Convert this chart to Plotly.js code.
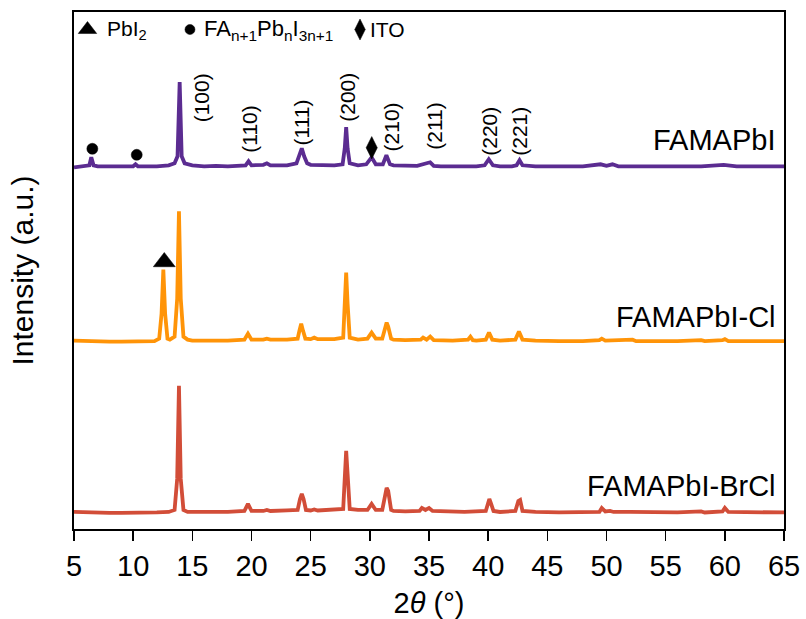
<!DOCTYPE html>
<html>
<head>
<meta charset="utf-8">
<script src="https://cdn.plot.ly/plotly-3.0.1.min.js"></script>
<style>html,body{margin:0;padding:0;background:#fff;}#chart{width:806px;height:619px;}</style>
</head>
<body>
<div id="chart"></div>
<script>
// ---- Data (2θ in degrees, stacked intensity in a.u.) ----
const famaX = [5,6,6.3,6.46,6.65,7,8,9,10,10.2,10.4,11,12,13,13.5,13.75,13.93,14.1,14.35,15,16,17,18,19.5,19.75,20,21,21.3,21.6,22,23,23.8,24.05,24.25,24.45,24.7,25,26,27,27.7,27.88,28,28.12,28.3,29,29.7,30.15,30.5,31.1,31.4,31.7,32,33,34,35.1,35.4,36,37,38,39,39.7,40.05,40.4,41,42,42.4,42.65,42.9,44,45,46,47,48,49.5,50,50.5,51,52,54,56,58,59.9,61,63,65];
const famaY = [361,362,363,371,363,362,362,361.5,362,364,362,362,362,363,365,372,446,372,365,363,362,362.5,362,363,367,363,363.5,365,363,363,363,365,372,380,372,365,363.5,363,363,364,380,401,380,365,363,364,371,364,364,373,364,363,362.5,362.5,366,362.5,362,362,362,362,363,369,363,362,362,363,368,363,362,362,362,362,362,364,362.5,364,362,362,362,362,362,363.5,362,362,362];

const clX = [5,6,7,8,9,10,11,11.8,12.2,12.4,12.55,12.7,12.9,13.1,13.5,13.72,13.87,14.02,14.25,14.6,15,16,17,18,19.4,19.7,20,21,21.3,21.6,23,23.9,24.05,24.2,24.35,24.55,25,25.3,25.6,27,27.75,27.9,28,28.12,28.3,29,29.8,30.15,30.5,31.05,31.3,31.42,31.55,31.8,32,33,34.3,34.5,34.8,35.1,35.4,36,37,38.3,38.5,38.7,39,39.8,40.07,40.35,41,42.3,42.6,42.9,44,46,48,49.4,49.6,49.9,52.2,52.5,54,56,58,58.3,59.8,60,60.3,62,65];
const clY = [188,187.5,187,187,187,187,187,187.5,190,215,259,215,190,189,192,230,317,230,192,189,188,188,188,188,189,195,189,189,190,189,189,190,198,205,198,190,189.5,191,189.5,189.5,191,225,256,225,191,189,190,196,190,190,202,206,202,190,189,188.5,189,191,189,192,188.5,188,188,189,192,188.5,188,189,196,189,188,189,197,189,188,187.5,187.5,188.5,190,188,189,187.5,187.5,187.5,188.5,187.5,188.5,189.5,187.5,187.5,187.5];

const brclX = [5,6,7,8,9,10,11,12,13,13.5,13.72,13.87,14.02,14.25,14.6,15,16,17,18,19.4,19.7,20,21,21.3,21.6,23,23.9,24.1,24.25,24.4,24.6,25,25.3,25.6,27,27.75,27.9,28,28.12,28.3,29,29.8,30.15,30.5,31.05,31.3,31.42,31.55,31.8,32,33,34.2,34.4,34.7,35,35.3,36,38,39.8,40,40.1,40.25,40.45,41,42.3,42.55,42.7,42.9,44,46,48,49.4,49.6,49.9,50.3,50.6,52,54,56,58,58.3,59.8,60,60.3,62,65];
const brclY = [17,16.5,16.5,16,16,16,16,16.5,17,19,50,143,50,19,17,17,16.5,17,17,18,25,18,18,19,18,18.5,19,30,35,30,19,18.5,19.5,18.5,19,20,55,78,55,20,19,19,25,19,19,38,41,38,19,18,17.5,18,21,19,21,18,17.5,17,18,29,30,25,18,17,18,28,29,18,17,16.5,16.5,17,21,17.5,18,17,17,16.5,16.5,17.5,16.5,17.5,21,17,17,16.5];

const seriesNames = ['FAMAPbI', 'FAMAPbI-Cl', 'FAMAPbI-BrCl'];
const seriesColors = ['#5b2c91', '#ff9408', '#d24d38'];
const seriesLabelY = [388.5, 211.5, 42.5];

// Miller index labels
const hklText = ['(100)','(110)','(111)','(200)','(210)','(211)','(220)','(221)'];
const hklX = [15.79,19.87,24.24,28.16,31.85,35.51,40.16,42.69];
const hklY = [430.5,399.5,405.5,430.5,401.5,401.5,396.5,396.5];

// Phase markers above peaks
const phaseX = [6.55, 10.3, 30.16, 12.63];
const phaseY = [379.5, 373.5, 380.5, 266.5];
const phaseSym = ['circle','circle','diamond-tall','triangle-up'];
const phaseSize = [11, 11, 16, 19];

// Legend keys (top row)
const keySym = ['triangle-up','circle','diamond-tall'];
const keyX = [6.14, 14.8, 29.17];
const keyText = ['PbI<sub>2</sub>', 'FA<sub>n+1</sub>Pb<sub>n</sub>I<sub>3n+1</sub>', 'ITO'];
const keyTextX = [7.6, 15.85, 29.85];
const keyTextSize = [21, 22, 21];
const keyY = 498.5;

const xTicks = [5,10,15,20,25,30,35,40,45,50,55,60,65];

const FONT = 'Arial, "Liberation Sans", sans-serif';

const traces = [
  {x: famaX, y: famaY, mode:'lines', line:{color:seriesColors[0], width:3.8}, name:seriesNames[0], hoverinfo:'skip'},
  {x: clX, y: clY, mode:'lines', line:{color:seriesColors[1], width:3.8}, name:seriesNames[1], hoverinfo:'skip'},
  {x: brclX, y: brclY, mode:'lines', line:{color:seriesColors[2], width:3.8}, name:seriesNames[2], hoverinfo:'skip'},
  {x: phaseX, y: phaseY, mode:'markers', opacity:1,
    marker:{symbol:phaseSym, size:phaseSize, color:'#000000', opacity:1, line:{color:'#000000', width:0.5}}, hoverinfo:'skip'},
  {x: keyX, y: [keyY,keyY,keyY], mode:'markers', opacity:1,
    marker:{symbol:keySym, size:[16,10,15], color:'#000000', opacity:1, line:{color:'#000000', width:0.5}}, hoverinfo:'skip'}
];

const annotations = [];
for (let i = 0; i < seriesNames.length; i++) {
  annotations.push({xref:'paper', yref:'y', x:0.992, y:seriesLabelY[i], xanchor:'right', yanchor:'middle',
    text:seriesNames[i], showarrow:false, font:{family:FONT, size:29, color:'#000'}});
}
for (let i = 0; i < hklText.length; i++) {
  annotations.push({xref:'x', yref:'y', x:hklX[i], y:hklY[i], xanchor:'center', yanchor:'middle',
    text:hklText[i], textangle:-90, showarrow:false, font:{family:FONT, size:21, color:'#000'}});
}
for (let i = 0; i < keyText.length; i++) {
  annotations.push({xref:'x', yref:'y', x:keyTextX[i], y:keyY, xanchor:'left', yanchor:'middle',
    text:keyText[i], showarrow:false, font:{family:FONT, size:keyTextSize[i], color:'#000'}});
}

const layout = {
  width:806, height:619,
  margin:{l:74, r:22, t:12, b:90},
  paper_bgcolor:'#fff', plot_bgcolor:'#fff',
  showlegend:false,
  xaxis:{range:[5,65], tickvals:xTicks, ticktext:xTicks.map(String), ticks:'outside', ticklen:10, tickwidth:1.5,
    tickcolor:'#000', showline:true, linecolor:'#000', linewidth:2, mirror:true, showgrid:false, zeroline:false,
    tickfont:{family:FONT, size:29, color:'#000'},
    title:{text:'2<i>θ</i> (°)', font:{family:FONT, size:29, color:'#000'}, standoff:12}},
  yaxis:{range:[0,516], showticklabels:false, ticks:'', showline:true, linecolor:'#000', linewidth:2, mirror:true,
    showgrid:false, zeroline:false,
    title:{text:'Intensity (a.u.)', font:{family:FONT, size:30, color:'#000'}, standoff:30}},
  annotations: annotations
};

Plotly.newPlot('chart', traces, layout, {staticPlot:true, displayModeBar:false});
</script>
</body>
</html>
